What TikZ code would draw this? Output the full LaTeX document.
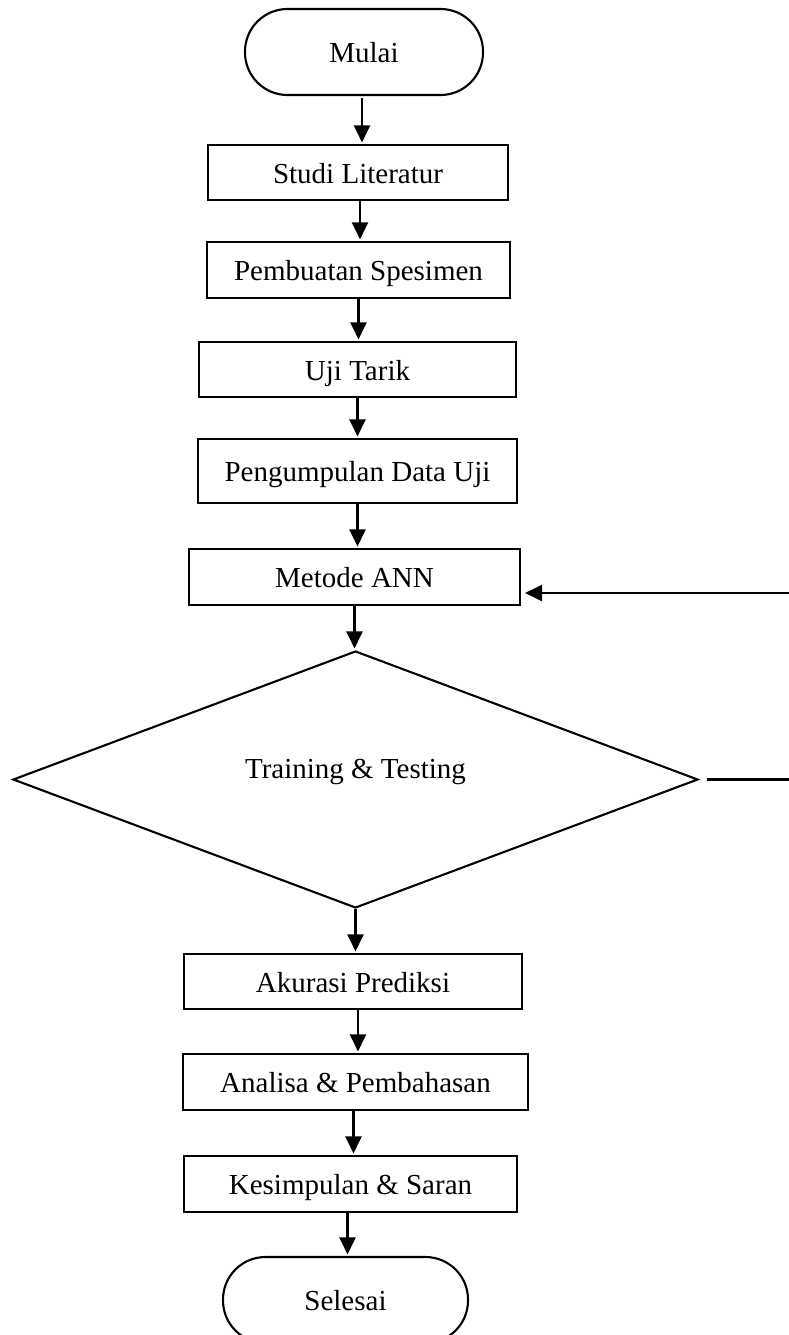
\documentclass[tikz,border=0pt]{standalone}
\usepackage{fontspec}
\setmainfont{Liberation Serif}
\usetikzlibrary{shapes.geometric,arrows.meta}
\begin{document}
\begin{tikzpicture}[x=1pt,y=-1pt,
  box/.style={draw, line width=2.1pt, rectangle, inner sep=0pt, text height=21pt, text depth=0pt, font=\fontsize{29}{34}\selectfont},
  term/.style={box, rounded corners=42.5pt},
  dec/.style={draw, line width=2.1pt, diamond, inner sep=0pt},
  lbl/.style={inner sep=0pt, text height=21pt, text depth=0pt, font=\fontsize{29}{34}\selectfont},
  arr/.style={line width=2.1pt, -{Triangle[width=16pt,length=17pt]}, shorten >=1.5pt}]
\useasboundingbox (0,0) rectangle (788,1335);
\node[term, minimum width=238pt, minimum height=86pt] (mulai) at (364,52) {Mulai};
\node[box, minimum width=300pt, minimum height=55pt] (studi) at (358,172.5) {Studi Literatur};
\node[box, minimum width=303pt, minimum height=56pt] (pemb) at (358.5,270) {Pembuatan Spesimen};
\node[box, minimum width=317pt, minimum height=55pt] (uji) at (357.5,369.5) {Uji Tarik};
\node[box, minimum width=319pt, minimum height=64pt] (peng) at (357.5,471) {Pengumpulan Data Uji};
\node[box, minimum width=331pt, minimum height=56pt] (ann) at (354.5,577) {Metode ANN};
\node[dec, minimum width=685pt, minimum height=257pt] (dia) at (355.5,779.5) {};
\node[lbl] (dialbl) at ([yshift=12pt]dia.center) {Training \& Testing};
\node[box, minimum width=338pt, minimum height=55pt] (akur) at (353,981.5) {Akurasi Prediksi};
\node[box, minimum width=345pt, minimum height=56pt] (anal) at (355.5,1082) {Analisa \& Pembahasan};
\node[box, minimum width=333pt, minimum height=56pt] (kesi) at (350.5,1184) {Kesimpulan \& Saran};
\node[term, minimum width=245pt, minimum height=86pt] (seles) at (345.5,1300) {Selesai};
\coordinate (loop) at (800,593);
\draw[arr, shorten <=2pt] ([xshift=-2pt]mulai.south) -- ([xshift=-2pt]mulai.south |- studi.north);
\draw[arr] ([xshift=2pt]studi.south) -- ([xshift=2pt]studi.south |- pemb.north);
\draw[arr] (pemb.south) -- (pemb.south |- uji.north);
\draw[arr] (uji.south) -- (uji.south |- peng.north);
\draw[arr] (peng.south) -- (peng.south |- ann.north);
\draw[arr] (ann.south) -- (ann.south |- dia.north);
\draw[arr] (dia.south) -- (dia.south |- akur.north);
\draw[arr] ([xshift=5pt]akur.south) -- ([xshift=5pt]akur.south |- anal.north);
\draw[arr] ([xshift=-2pt]anal.south) -- ([xshift=-2pt]anal.south |- kesi.north);
\draw[arr] ([xshift=-3pt]kesi.south) -- ([xshift=-3pt]kesi.south |- seles.north);
\draw[arr, shorten >=4pt] ([xshift=8pt]dia.east) -- (dia.east -| loop) -- (loop) -- (loop -| ann.east);
\end{tikzpicture}
\end{document}
